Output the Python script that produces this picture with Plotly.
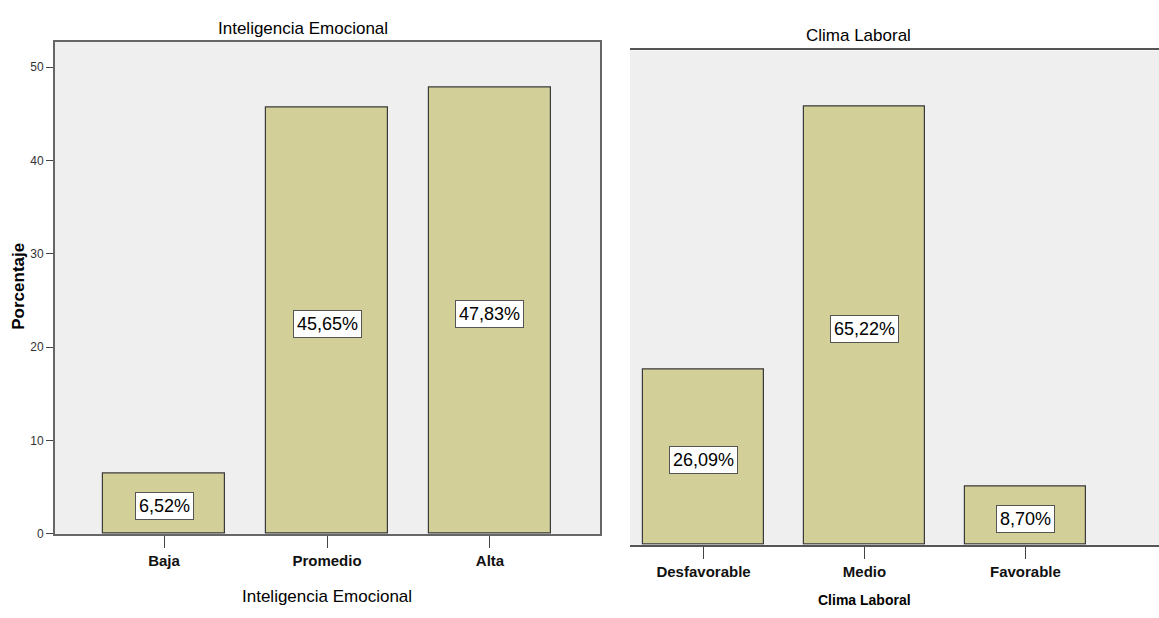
import plotly.graph_objects as go

# Inteligencia Emocional (porcentaje por nivel)
ie_categories = ["Baja", "Promedio", "Alta"]
ie_values = [6.52, 45.65, 47.83]

# Clima Laboral (porcentaje por nivel)
cl_categories = ["Desfavorable", "Medio", "Favorable"]
cl_values = [26.09, 65.22, 8.70]

y_ticks = [0, 10, 20, 30, 40, 50]

W, H = 1159, 618
FONT = "Liberation Sans, Arial, Helvetica, sans-serif"
BAR_FILL = "#D3CF98"
PLOT_BG = "#EFEFEF"


def px_x(p):
    return p / W


def px_y(p):
    return 1 - p / H


def pct(v):
    return f"{v:.2f}".replace(".", ",") + "%"


fig = go.Figure()

for cats, vals, xa, ya in [
    (ie_categories, ie_values, "x", "y"),
    (cl_categories, cl_values, "x2", "y2"),
]:
    fig.add_trace(go.Bar(
        x=list(range(len(cats))), y=vals, width=0.75,
        marker=dict(color=BAR_FILL, line=dict(color="#3A3A3A", width=1.2)),
        xaxis=xa, yaxis=ya, showlegend=False, hoverinfo="skip",
    ))
    for i, v in enumerate(vals):
        fig.add_annotation(
            x=i, y=v / 2, xref=xa, yref=ya, yshift=-3,
            xanchor="center", yanchor="middle",
            text=pct(v), showarrow=False,
            font=dict(family=FONT, size=18, color="#000000"),
            bgcolor="#FFFFFF", bordercolor="#555555", borderwidth=1, borderpad=3,
        )

tick_font = dict(family=FONT, size=15, color="#111111", weight="bold")

fig.update_layout(
    width=W, height=H,
    margin=dict(l=0, r=0, t=0, b=0),
    paper_bgcolor="#FFFFFF",
    plot_bgcolor=PLOT_BG,
    bargap=0,
    xaxis=dict(
        domain=[px_x(55), px_x(600)], range=[-0.669, 2.675],
        tickvals=list(range(len(ie_categories))), ticktext=ie_categories,
        ticks="outside", ticklen=12, tickcolor="#444444", tickwidth=1,
        tickfont=tick_font,
        showline=True, linecolor="#666666", linewidth=2, mirror=True,
        showgrid=False, zeroline=False, anchor="y",
    ),
    yaxis=dict(
        domain=[px_y(540), px_y(42)], range=[0, 52.75],
        tickvals=y_ticks, ticks="outside", ticklen=7, tickcolor="#444444",
        tickfont=dict(family=FONT, size=12, color="#333333"),
        showline=True, linecolor="#666666", linewidth=2, mirror=True,
        showgrid=False, zeroline=False, anchor="x",
    ),
    xaxis2=dict(
        domain=[px_x(630), 1.0], range=[-0.457, 2.83],
        tickvals=list(range(len(cl_categories))), ticktext=cl_categories,
        ticks="outside", ticklen=12, tickcolor="#444444", tickwidth=1,
        tickfont=tick_font,
        showline=True, linecolor="#555555", linewidth=2, mirror=True,
        showgrid=False, zeroline=False, anchor="y2",
    ),
    yaxis2=dict(
        domain=[px_y(551), px_y(51)], range=[0, 73.6],
        showticklabels=False, ticks="",
        showline=False, showgrid=False, zeroline=False, anchor="x2",
    ),
)


def label(x, y, text, size, bold=False, angle=0):
    fig.add_annotation(
        x=px_x(x), y=px_y(y), xref="paper", yref="paper",
        xanchor="center", yanchor="middle",
        text=f"<b>{text}</b>" if bold else text, showarrow=False, textangle=angle,
        font=dict(family=FONT, size=size, color="#000000"),
    )


# Chart titles and axis titles
label(303, 29, "Inteligencia Emocional", 17)
label(327, 603, "Inteligencia Emocional", 17)
label(19, 290, "Porcentaje", 17, bold=True, angle=-90)
label(858, 36, "Clima Laboral", 17)
label(864, 607, "Clima Laboral", 14, bold=True)

fig.write_html("out.html")
